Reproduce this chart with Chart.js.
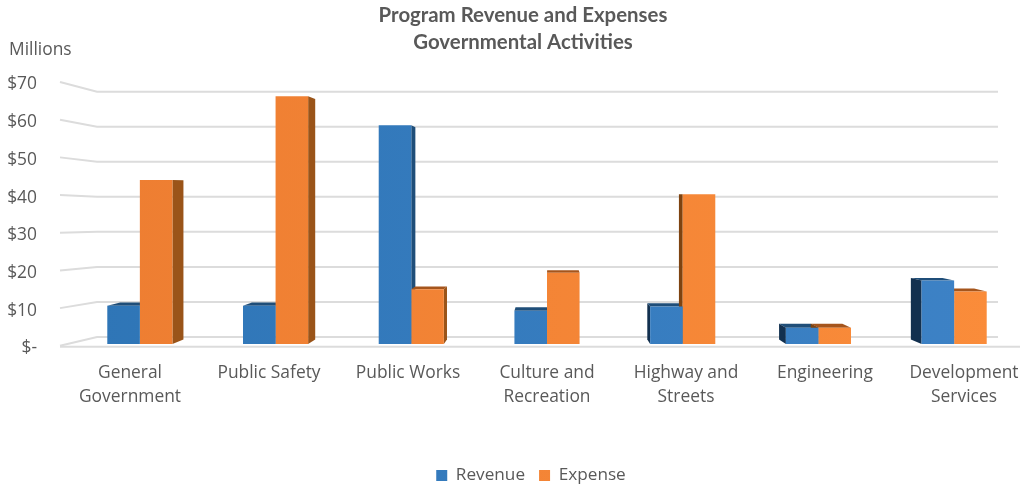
<!DOCTYPE html>
<html>
<head>
<meta charset="utf-8">
<title>Program Revenue and Expenses</title>
<script src="https://cdn.jsdelivr.net/npm/chart.js@4/dist/chart.umd.min.js"></script>
<style>
  body { margin: 0; background: #fff; }
  #wrap { position: relative; width: 1029px; height: 484px; }
</style>
</head>
<body>
<div id="wrap"><canvas id="chart"></canvas></div>
<script>
    const categories = [['General', 'Government'], 'Public Safety', 'Public Works', ['Culture and', 'Recreation'], ['Highway and', 'Streets'], 'Engineering', ['Development', 'Services']];
    const revenue = [10.6, 10.6, 58.5, 9.3, 10.4, 4.8, 17.3];
    const expense = [44, 66.2, 15, 19.4, 40.2, 4.8, 14.4];
    const yTickLabels = ['$-', '$10', '$20', '$30', '$40', '$50', '$60', '$70'];

    const textColor = '#595959';
    const gridColor = '#dcdcdc';

    // fake 3D look: every bar gets a back face pulled towards this point
    const depth = { vx: 552, vy: 190, amount: 0.029 };
    const wall = { back: 97, backEnd: 998, floorEnd: 1020, squeeze: 0.93, backBottom: 337 };

    function backX(x) { return x + (depth.vx - x) * depth.amount; }
    function backY(y) { return y + (depth.vy - y) * depth.amount; }

    function poly(ctx, color, pts) {
        ctx.fillStyle = color;
        ctx.beginPath();
        pts.forEach((p, i) => i ? ctx.lineTo(p[0], p[1]) : ctx.moveTo(p[0], p[1]));
        ctx.closePath();
        ctx.fill();
    }

    function sideGradient(chart, from, to) {
        const g = chart.ctx.createLinearGradient(60, 0, 1000, 0);
        g.addColorStop(0, from);
        g.addColorStop(1, to);
        return g;
    }

    const layoutFix = {
        id: 'layoutFix',
        afterLayout(chart) {
            // category labels sit on the front edge, which is wider than the bar row
            const s = chart.scales.labels;
            s.left = 60.5; s.right = 1033.5;
            s.configure();
            chart.titleBlock.left = 18; chart.titleBlock.right = 1028;
            chart.legend.left = 33; chart.legend.right = 1029;
            chart.legend.top += 10; chart.legend.bottom += 10;
        }
    };

    const walls = {
        id: 'walls',
        beforeDatasetsDraw(chart) {
            const { ctx, scales: { y } } = chart;
            const left = y.right - 12;
            const zero = y.getPixelForValue(0);
            ctx.save();
            ctx.strokeStyle = gridColor;
            ctx.lineWidth = 2;
            y.ticks.forEach(t => {
                const front = y.getPixelForValue(t.value);
                const back = wall.backBottom - (zero - front) * wall.squeeze;
                ctx.beginPath();
                ctx.moveTo(left, front);
                ctx.lineTo(wall.back, back);
                ctx.lineTo(wall.backEnd, back);
                ctx.stroke();
            });
            ctx.beginPath();
            ctx.moveTo(left, zero + 1);
            ctx.lineTo(wall.floorEnd, zero + 1);
            ctx.stroke();
            ctx.restore();
        }
    };

    const barSides = {
        id: 'barSides',
        beforeDatasetsDraw(chart) {
            const ctx = chart.ctx;
            chart.data.datasets.forEach((ds, i) => {
                chart.getDatasetMeta(i).data.forEach(bar => {
                    const { x, y, base, width } = bar.getProps(['x', 'y', 'base', 'width']);
                    const l = x - width / 2, r = x + width / 2;
                    if (y > depth.vy) {
                        poly(ctx, ds.topColor, [[l, y], [r, y], [backX(r), backY(y)], [backX(l), backY(y)]]);
                    }
                    if (r < depth.vx) {
                        poly(ctx, ds.rightColor, [[r, y], [backX(r), backY(y)], [backX(r), backY(base)], [r, base]]);
                    }
                    if (l > depth.vx) {
                        poly(ctx, ds.leftColor, [[l, y], [backX(l), backY(y)], [backX(l), backY(base)], [l, base]]);
                    }
                });
            });
        },
        afterDraw(chart) {
            const ctx = chart.ctx;
            ctx.save();
            ctx.fillStyle = textColor;
            ctx.font = '17.4px "Open Sans"';
            ctx.textBaseline = 'middle';
            ctx.fillText('Millions', 9, 50);
            ctx.restore();
        }
    };

    new Chart(document.getElementById('chart'), {
        type: 'bar',
        data: {
            labels: categories,
            datasets: [
                {
                    label: 'Revenue',
                    data: revenue,
                    base: 0.5,
                    backgroundColor: c => sideGradient(c.chart, '#2e75b6', '#3d82c6'),
                    topColor: '#1f4e79',
                    rightColor: '#1f4e79',
                    leftColor: '#12304f'
                },
                {
                    label: 'Expense',
                    data: expense,
                    base: 0.5,
                    backgroundColor: c => sideGradient(c.chart, '#ed7d31', '#fa8c3a'),
                    topColor: '#a5551c',
                    rightColor: '#9a5419',
                    leftColor: '#7e4310'
                }
            ]
        },
        options: {
            responsive: true,
            maintainAspectRatio: false,
            animation: false,
            layout: { autoPadding: false, padding: { right: 7 } },
            categoryPercentage: 0.48,
            barPercentage: 1,
            plugins: {
                title: {
                    display: true,
                    text: ['Program Revenue and Expenses', 'Governmental Activities'],
                    color: textColor,
                    font: { family: 'Lato', size: 20.4, weight: 'bold', lineHeight: '27px' },
                    padding: { top: 2, bottom: 26 }
                },
                legend: {
                    position: 'bottom',
                    labels: { color: textColor, boxWidth: 11, boxHeight: 11, padding: 14, font: { family: 'Open Sans', size: 17.2 } }
                },
                tooltip: { enabled: false }
            },
            scales: {
                x: { display: false, offset: true, grid: { display: false } },
                labels: {
                    type: 'category',
                    labels: categories,
                    position: 'bottom',
                    offset: true,
                    border: { display: false },
                    grid: { display: false, drawTicks: false },
                    ticks: {
                        autoSkip: false, minRotation: 0, maxRotation: 0, padding: 15,
                        color: textColor,
                        font: { family: 'Open Sans', size: 17.4, lineHeight: '24px' }
                    },
                    afterFit(s) { s.height = 97; }
                },
                y: {
                    min: 0,
                    max: 70,
                    border: { display: false },
                    grid: { display: false, drawTicks: false },
                    ticks: {
                        stepSize: 10,
                        padding: 35,
                        labelOffset: 2.5,
                        color: textColor,
                        font: { family: 'Open Sans', size: 17.4 },
                        callback: (v, i) => yTickLabels[i]
                    },
                    afterFit(s) { s.width = 72; }
                }
            }
        },
        plugins: [layoutFix, walls, barSides]
    });
</script>
</body>
</html>
